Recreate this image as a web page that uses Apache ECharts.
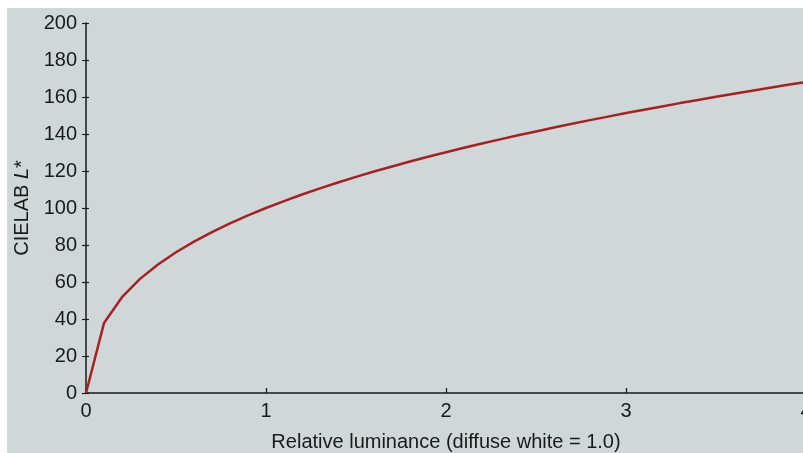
<!DOCTYPE html>
<html><head><meta charset="utf-8">
<script src="https://cdn.jsdelivr.net/npm/echarts@6/dist/echarts.min.js"></script>
<style>html,body{margin:0;padding:0;background:#fff}#c{width:803px;height:453px}</style>
</head><body><div id="c"></div>
<script>
const luminance = [0,0.1,0.2,0.3,0.4,0.5,0.6,0.7,0.8,0.9,1.0,1.1,1.2,1.3,1.4,1.5,1.6,1.7,1.8,1.9,2.0,2.1,2.2,2.3,2.4,2.5,2.6,2.7,2.8,2.9,3.0,3.1,3.2,3.3,3.4,3.5,3.6,3.7,3.8,3.9,4.0];
const lstar = [0,37.8,51.8,61.7,69.5,76.1,81.8,87.0,91.7,96.0,100,103.7,107.3,110.6,113.8,116.8,119.7,122.4,125.1,127.7,130.1,132.6,134.9,137.1,139.3,141.4,143.5,145.5,147.5,149.4,151.3,153.1,154.9,156.7,158.4,160.1,161.8,163.4,165.0,166.6,168.1];
const xTicks = [0,1,2,3,4];
const yTicks = [0,20,40,60,80,100,120,140,160,180,200];

const chart = echarts.init(document.getElementById('c'), null, {renderer:'canvas'});
const font = 'Liberation Sans, Arial, Helvetica, sans-serif';
chart.setOption({
  animation:false,
  graphic:[{type:'rect', left:7, top:8, z:-10, shape:{width:800, height:450}, style:{fill:'#cfd8d9'}}],
  grid:{left:86, top:23, right:-3, bottom:60, containLabel:false, outerBoundsMode:'none'},
  xAxis:{type:'value', min:0, max:4, interval:1,
    name:'Relative luminance (diffuse white = 1.0)', nameLocation:'middle', nameGap:39,
    nameTextStyle:{fontFamily:font, fontSize:20, color:'#1a1a1a'},
    axisLine:{lineStyle:{color:'#1a1a1a', width:1.5}},
    axisTick:{inside:true, length:5, lineStyle:{color:'#1a1a1a', width:1.2}},
    axisLabel:{fontFamily:font, fontSize:20, color:'#1a1a1a', margin:8, formatter:v=>xTicks.includes(v)?String(v):''},
    splitLine:{show:false}},
  yAxis:[{type:'value', min:0, max:200, interval:20,
    name:'CIELAB {i|L}*', nameLocation:'middle', nameGap:54, nameRotate:90,
    nameTextStyle:{fontFamily:font, fontSize:20, color:'#1a1a1a', rich:{i:{fontStyle:'italic', fontFamily:font, fontSize:20, color:'#1a1a1a'}}},
    axisLine:{lineStyle:{color:'#1a1a1a', width:1.5}},
    axisTick:{length:4, lineStyle:{color:'#1a1a1a', width:1.2}},
    axisLabel:{fontFamily:font, fontSize:20, color:'#1a1a1a', margin:9, formatter:v=>yTicks.includes(v)?String(v):''},
    splitLine:{show:false}},
   {type:'value', min:0, max:200, interval:20, position:'left',
    axisLine:{show:false}, axisLabel:{show:false}, splitLine:{show:false},
    axisTick:{inside:true, length:3, lineStyle:{color:'#1a1a1a', width:1.2}}}],
  series:[{type:'line', data:luminance.map((x,i)=>[x,lstar[i]]), showSymbol:false, symbol:'none',
    lineStyle:{color:'#a8201f', width:2.5}, z:5, clip:false}]
});
</script></body></html>
